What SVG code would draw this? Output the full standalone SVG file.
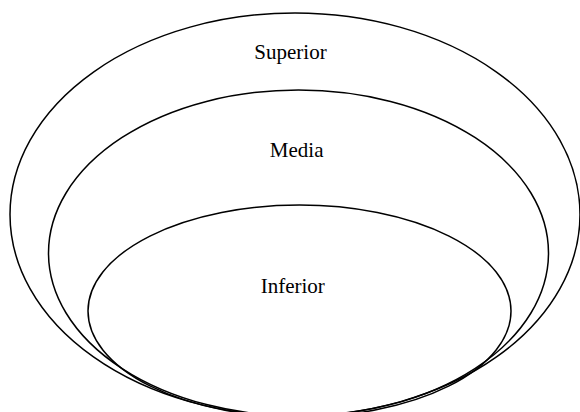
<svg xmlns="http://www.w3.org/2000/svg" width="580" height="412" viewBox="0 0 580 412">
<style>
.ring{fill:none;stroke:#000;stroke-width:1.5}
.lbl{font-family:"Liberation Serif","Times New Roman",serif;font-size:21px;fill:#000;text-anchor:middle}
</style>
<rect width="580" height="412" fill="#fff"/>
<g id="superior">
<ellipse class="ring" cx="295" cy="214.5" rx="285" ry="201.5"/>
<text class="lbl" x="290.5" y="59">Superior</text>
</g>
<g id="media">
<ellipse class="ring" cx="298.5" cy="253" rx="250" ry="163"/>
<text class="lbl" x="296.7" y="157">Media</text>
</g>
<g id="inferior">
<ellipse class="ring" cx="299.5" cy="311" rx="211.5" ry="106"/>
<text class="lbl" x="292.8" y="293">Inferior</text>
</g>
<g id="connectors"/>
</svg>
